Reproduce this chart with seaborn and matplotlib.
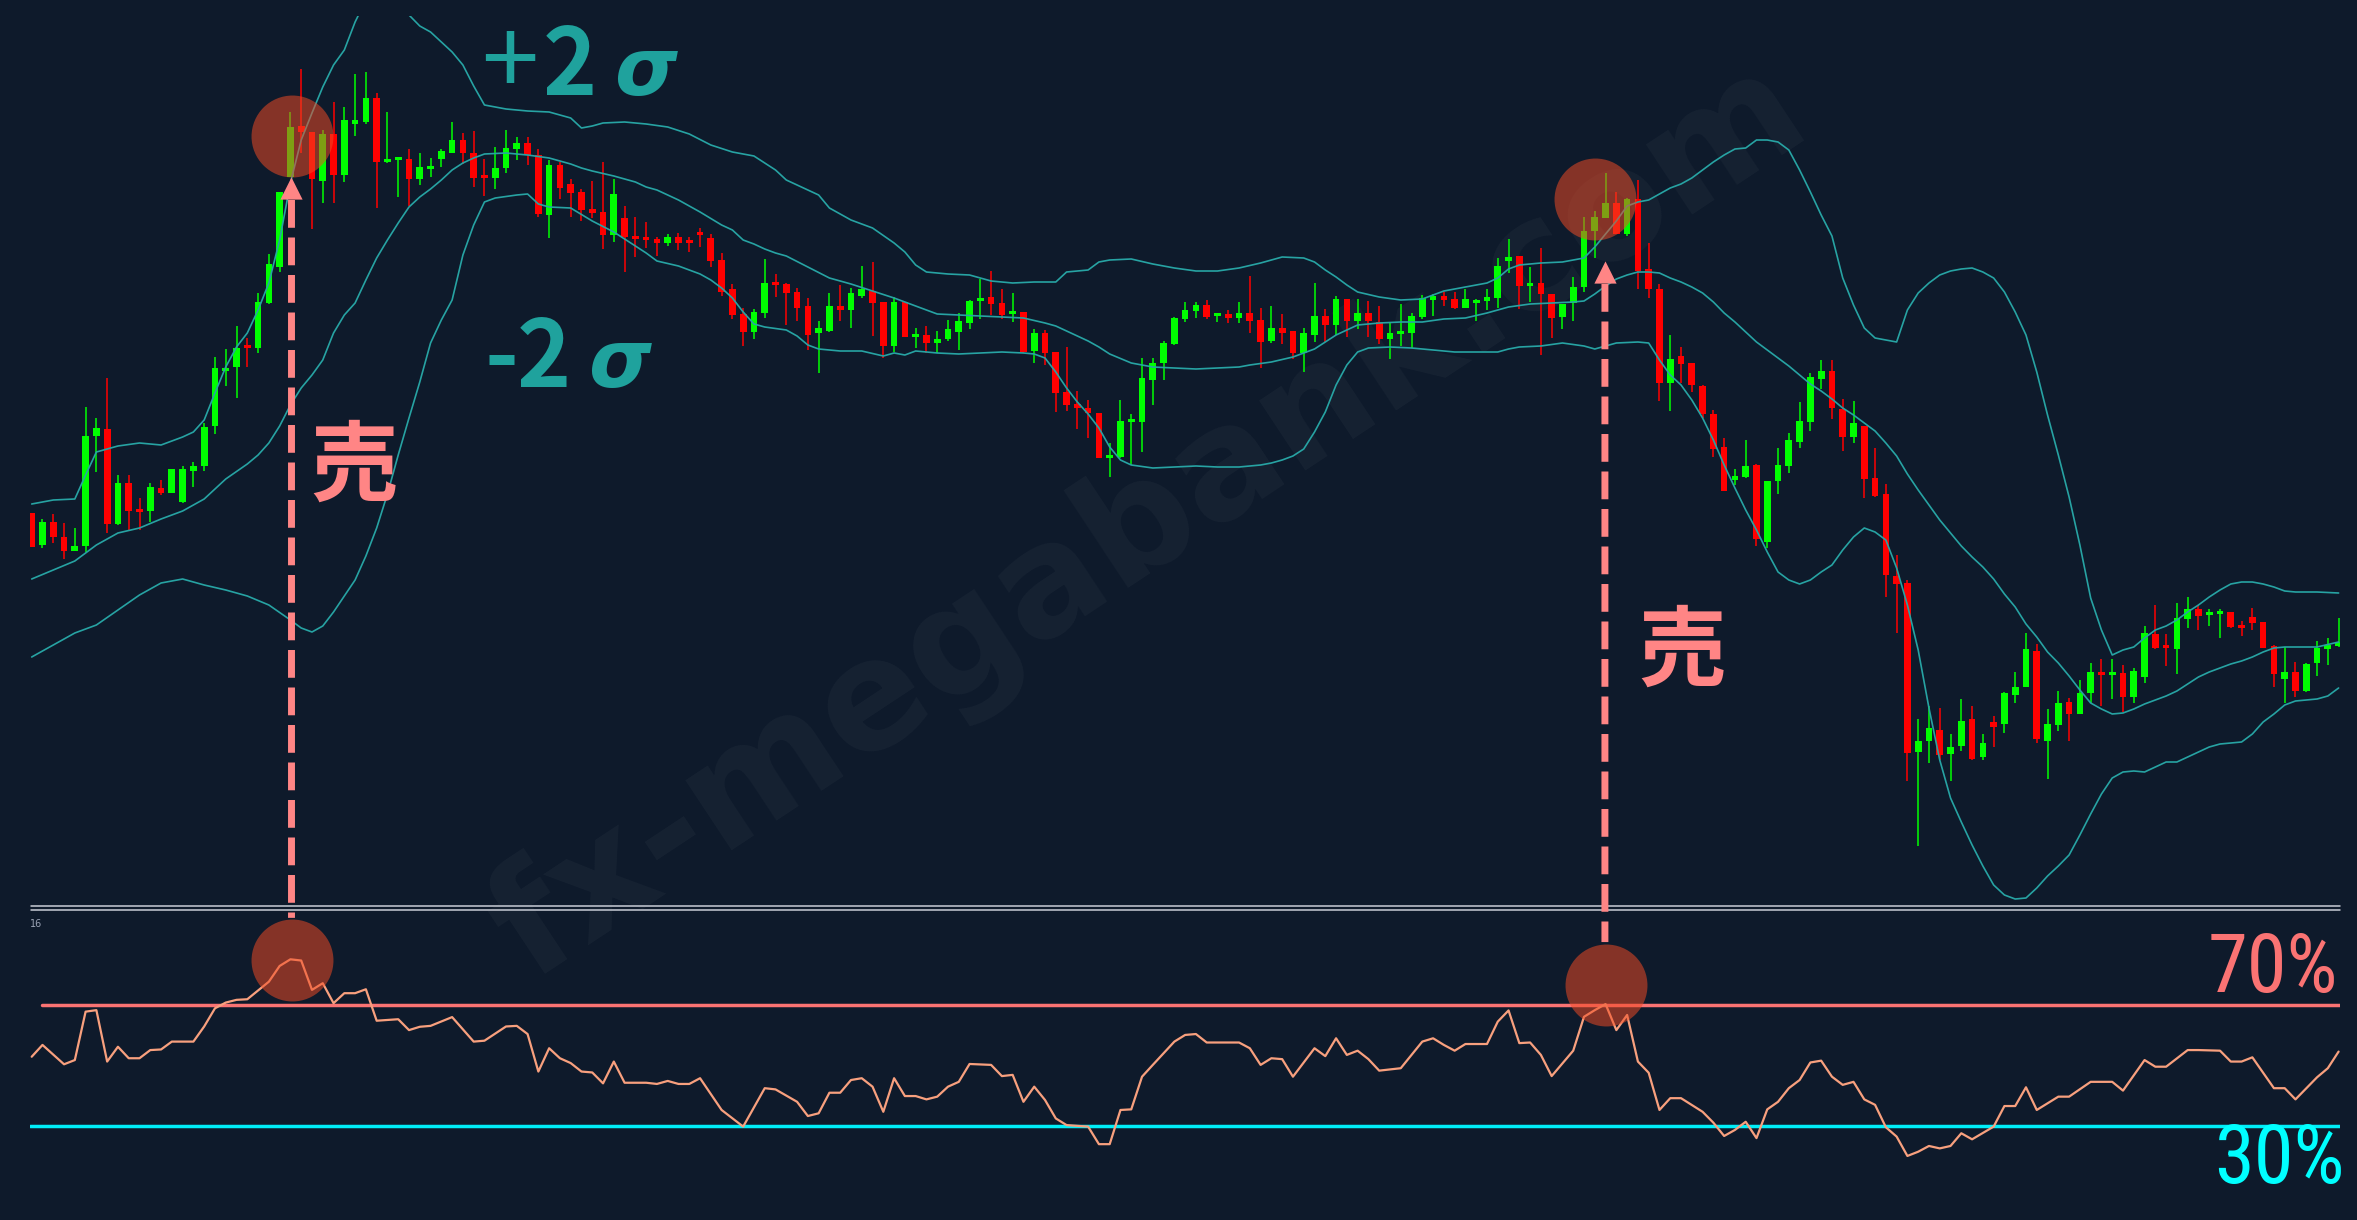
import numpy as np
import pandas as pd
import matplotlib
matplotlib.use("Agg")
import matplotlib.pyplot as plt
import seaborn as sns
from matplotlib.patches import ConnectionPatch
from matplotlib.lines import Line2D

# ---------------- price bars ----------------
opens = [
    144.87, 144.55, 144.78, 144.63, 144.49, 144.54, 145.64, 145.71, 144.76, 145.17,
    144.90, 144.89, 145.12, 145.07, 144.98, 145.29, 145.34, 145.74, 146.29, 146.33,
    146.54, 146.52, 146.97, 147.33, 148.23, 148.74, 148.68, 148.19, 148.66, 148.25,
    148.76, 148.78, 149.02, 148.38, 148.40, 148.41, 148.21, 148.31, 148.41, 148.47,
    148.60, 148.47, 148.23, 148.22, 148.32, 148.51, 148.57, 148.45, 147.85, 148.35,
    148.16, 148.08, 147.91, 147.88, 147.65, 147.82, 147.64, 147.62, 147.61, 147.57,
    147.63, 147.59, 147.66, 147.62, 147.40, 147.11, 146.86, 146.68, 146.87, 147.18,
    147.16, 147.08, 146.94, 146.67, 146.69, 146.94, 146.90, 147.04, 147.09, 146.98,
    146.54, 146.98, 146.63, 146.65, 146.57, 146.61, 146.68, 146.77, 146.99, 147.03,
    146.97, 146.86, 146.88, 146.49, 146.67, 146.48, 146.08, 145.96, 145.92, 145.87,
    145.42, 145.43, 145.78, 145.78, 146.20, 146.37, 146.56, 146.81, 146.89, 146.95,
    146.84, 146.86, 146.82, 146.87, 146.80, 146.59, 146.72, 146.69, 146.47, 146.65,
    146.84, 146.75, 147.01, 146.79, 146.87, 146.78, 146.61, 146.66, 146.67, 146.83,
    147.00, 147.04, 147.01, 146.92, 146.97, 146.99, 147.02, 147.39, 147.44, 147.14,
    147.17, 147.06, 146.83, 146.97, 147.13, 147.69, 147.82, 147.97, 147.66, 148.01,
    147.31, 147.11, 146.17, 146.44, 146.37, 146.14, 145.86, 145.53, 145.20, 145.23,
    145.35, 144.58, 145.19, 145.34, 145.58, 145.78, 146.21, 146.29, 145.91, 145.63,
    145.74, 145.22, 145.06, 144.24, 144.17, 142.48, 142.59, 142.70, 142.46, 142.54,
    142.81, 142.43, 142.78, 142.76, 143.05, 143.13, 143.49, 142.59, 142.75, 142.98,
    142.86, 143.07, 143.28, 143.25, 143.27, 143.03, 143.23, 143.66, 143.53, 143.51,
    143.81, 143.91, 143.85, 143.86, 143.88, 143.73, 143.83, 143.78, 143.54, 143.21,
    143.28, 143.09, 143.37, 143.51, 143.54,
]
highs = [
    144.87, 144.81, 144.86, 144.77, 144.72, 145.93, 145.82, 146.22, 145.25, 145.25,
    145.02, 145.17, 145.20, 145.31, 145.34, 145.38, 145.77, 146.43, 146.51, 146.74,
    146.62, 147.07, 147.46, 148.08, 148.88, 149.31, 148.68, 148.70, 148.98, 148.93,
    149.26, 149.28, 149.07, 148.88, 148.43, 148.51, 148.47, 148.42, 148.51, 148.78,
    148.67, 148.69, 148.41, 148.53, 148.70, 148.63, 148.63, 148.51, 148.40, 148.38,
    148.21, 148.11, 148.19, 148.38, 148.21, 147.94, 147.83, 147.78, 147.63, 147.66,
    147.67, 147.63, 147.72, 147.66, 147.47, 147.16, 146.92, 146.91, 147.41, 147.26,
    147.17, 147.12, 147.02, 146.79, 147.07, 147.15, 147.12, 147.34, 147.38, 146.98,
    147.03, 146.98, 146.72, 146.74, 146.69, 146.80, 146.87, 147.00, 147.21, 147.29,
    147.11, 147.07, 146.88, 146.71, 146.70, 146.48, 146.53, 146.09, 146.00, 145.87,
    145.57, 146.00, 145.86, 146.42, 146.42, 146.59, 146.83, 146.98, 146.98, 147.00,
    146.87, 146.90, 146.98, 147.24, 146.92, 146.94, 146.86, 146.69, 146.72, 147.17,
    146.91, 147.04, 147.01, 147.01, 146.99, 146.94, 146.77, 146.96, 146.87, 147.05,
    147.06, 147.08, 147.08, 147.11, 147.01, 147.11, 147.42, 147.61, 147.44, 147.33,
    147.52, 147.06, 146.96, 147.23, 147.83, 147.89, 148.27, 148.08, 148.02, 148.20,
    147.57, 147.16, 146.65, 146.53, 146.37, 146.15, 145.90, 145.62, 145.31, 145.60,
    145.36, 145.19, 145.52, 145.67, 145.98, 146.27, 146.40, 146.40, 146.01, 145.99,
    145.74, 145.52, 145.16, 144.45, 144.20, 142.81, 142.94, 142.92, 142.66, 143.01,
    142.94, 142.66, 142.84, 143.08, 143.28, 143.67, 143.56, 142.91, 143.09, 143.02,
    143.20, 143.37, 143.41, 143.41, 143.35, 143.32, 143.74, 143.95, 143.66, 143.97,
    144.03, 143.95, 143.91, 143.91, 143.88, 143.79, 143.92, 143.78, 143.55, 143.53,
    143.38, 143.37, 143.59, 143.62, 143.82,
]
lows = [
    144.53, 144.52, 144.57, 144.41, 144.49, 144.48, 145.28, 144.67, 144.75, 144.70,
    144.70, 144.78, 145.05, 145.07, 144.97, 145.13, 145.29, 145.66, 146.14, 146.02,
    146.33, 146.47, 146.96, 147.28, 148.23, 148.47, 147.71, 147.97, 147.97, 148.18,
    148.64, 148.76, 147.92, 148.37, 148.03, 147.94, 148.15, 148.23, 148.33, 148.47,
    148.36, 148.13, 148.04, 148.11, 148.27, 148.40, 148.35, 147.83, 147.62, 148.01,
    147.83, 147.79, 147.82, 147.51, 147.58, 147.28, 147.43, 147.52, 147.44, 147.54,
    147.50, 147.48, 147.53, 147.33, 147.04, 146.81, 146.54, 146.61, 146.82, 147.03,
    146.75, 146.79, 146.50, 146.27, 146.68, 146.79, 146.72, 147.02, 146.64, 146.42,
    146.48, 146.63, 146.52, 146.47, 146.47, 146.59, 146.50, 146.71, 146.81, 146.85,
    146.81, 146.78, 146.47, 146.37, 146.35, 145.88, 145.89, 145.71, 145.62, 145.42,
    145.23, 145.42, 145.35, 145.48, 145.95, 146.20, 146.55, 146.78, 146.82, 146.81,
    146.78, 146.77, 146.77, 146.67, 146.32, 146.57, 146.56, 146.41, 146.28, 146.58,
    146.58, 146.65, 146.63, 146.71, 146.63, 146.56, 146.41, 146.54, 146.52, 146.81,
    146.84, 146.94, 146.91, 146.92, 146.79, 146.90, 146.92, 147.27, 146.91, 146.98,
    146.45, 146.62, 146.71, 146.79, 147.08, 147.42, 147.82, 147.66, 147.64, 147.11,
    147.02, 145.99, 145.89, 146.17, 146.08, 145.82, 145.43, 145.09, 145.15, 145.22,
    144.54, 144.52, 145.06, 145.27, 145.52, 145.69, 146.11, 145.81, 145.49, 145.57,
    145.02, 145.03, 144.03, 143.67, 142.19, 141.54, 142.37, 142.40, 142.19, 142.49,
    142.40, 142.40, 142.53, 142.67, 142.97, 143.13, 142.57, 142.21, 142.69, 142.59,
    142.86, 142.97, 142.94, 143.01, 142.88, 142.97, 143.17, 143.51, 143.34, 143.26,
    143.72, 143.70, 143.74, 143.62, 143.72, 143.64, 143.70, 143.52, 143.13, 142.97,
    143.03, 143.08, 143.24, 143.35, 143.53,
]
closes = [
    144.53, 144.78, 144.63, 144.49, 144.54, 145.64, 145.72, 144.76, 145.17, 144.89,
    144.88, 145.13, 145.07, 145.31, 145.31, 145.34, 145.73, 146.32, 146.32, 146.52,
    146.52, 146.98, 147.36, 148.08, 148.73, 148.68, 148.21, 148.66, 148.25, 148.80,
    148.80, 149.02, 148.38, 148.41, 148.43, 148.21, 148.33, 148.34, 148.49, 148.60,
    148.47, 148.22, 148.22, 148.32, 148.52, 148.57, 148.45, 147.86, 148.35, 148.12,
    148.07, 147.90, 147.87, 147.65, 148.06, 147.63, 147.61, 147.60, 147.57, 147.63,
    147.57, 147.57, 147.65, 147.39, 147.08, 146.85, 146.68, 146.88, 147.17, 147.15,
    147.07, 146.92, 146.65, 146.72, 146.94, 146.90, 147.07, 147.11, 146.97, 146.54,
    146.98, 146.63, 146.65, 146.57, 146.61, 146.71, 146.79, 146.99, 147.01, 146.96,
    146.85, 146.88, 146.48, 146.67, 146.47, 146.07, 145.95, 145.92, 145.87, 145.42,
    145.43, 145.79, 145.79, 146.22, 146.37, 146.57, 146.82, 146.90, 146.95, 146.83,
    146.86, 146.82, 146.87, 146.79, 146.58, 146.72, 146.67, 146.47, 146.67, 146.84,
    146.75, 147.01, 146.79, 146.87, 146.79, 146.61, 146.67, 146.68, 146.84, 147.02,
    147.04, 147.00, 146.92, 147.01, 146.99, 147.03, 147.34, 147.43, 147.14, 147.17,
    147.06, 146.82, 146.96, 147.13, 147.69, 147.83, 147.97, 147.66, 148.01, 147.29,
    147.11, 146.17, 146.41, 146.36, 146.15, 145.86, 145.51, 145.09, 145.24, 145.34,
    144.61, 145.19, 145.35, 145.60, 145.79, 146.23, 146.29, 145.92, 145.63, 145.77,
    145.21, 145.04, 144.25, 144.16, 142.47, 142.59, 142.72, 142.45, 142.53, 142.79,
    142.41, 142.57, 142.73, 143.07, 143.13, 143.51, 142.61, 142.76, 142.97, 142.86,
    143.07, 143.28, 143.25, 143.27, 143.03, 143.29, 143.67, 143.52, 143.52, 143.82,
    143.91, 143.84, 143.87, 143.89, 143.73, 143.72, 143.77, 143.52, 143.26, 143.28,
    143.09, 143.36, 143.52, 143.55, 143.58,
]

# ---------------- Bollinger bands: (bar, price) ----------------
upper_band = [
    (0, 144.96), (2, 145.00), (4, 145.01), (5, 145.25), (6, 145.48), (8, 145.54), (10, 145.57),
    (12, 145.55), (14, 145.63), (15, 145.68), (16, 145.80), (17, 146.07), (18, 146.33), (19, 146.53),
    (20, 146.67), (21, 146.90), (22, 147.17), (23, 147.60), (24, 148.17), (25, 148.60), (26, 148.87),
    (27, 149.13), (28, 149.35), (29, 149.50), (30, 149.78), (31, 150.00), (32, 150.10), (33, 150.12),
    (34, 150.05), (35, 149.85), (36, 149.74), (37, 149.68), (38, 149.58), (39, 149.48), (40, 149.35),
    (41, 149.14), (42, 148.95), (44, 148.91), (46, 148.89), (48, 148.88), (50, 148.82), (51, 148.72),
    (52, 148.74), (53, 148.77), (55, 148.78), (57, 148.76), (59, 148.73), (61, 148.66), (63, 148.55),
    (65, 148.48), (67, 148.44), (69, 148.30), (70, 148.20), (72, 148.10), (73, 148.05), (74, 147.92),
    (76, 147.80), (78, 147.72), (80, 147.57), (81, 147.48), (82, 147.35), (83, 147.28), (85, 147.26),
    (87, 147.25), (89, 147.19), (91, 147.17), (93, 147.18), (95, 147.18), (96, 147.28), (98, 147.30),
    (99, 147.38), (100, 147.40), (102, 147.41), (104, 147.36), (106, 147.32), (108, 147.29),
    (110, 147.29), (112, 147.32), (114, 147.37), (115, 147.40), (116, 147.43), (118, 147.42),
    (119, 147.38), (120, 147.30), (121, 147.23), (122, 147.15), (123, 147.08), (125, 147.03),
    (127, 147.00), (129, 147.01), (131, 147.09), (133, 147.13), (135, 147.17), (136, 147.22),
    (137, 147.31), (138, 147.35), (140, 147.37), (142, 147.38), (144, 147.42), (145, 147.53),
    (147, 147.79), (148, 147.94), (149, 147.98), (150, 148.00), (151, 148.06), (152, 148.12),
    (153, 148.16), (154, 148.22), (155, 148.30), (156, 148.38), (157, 148.45), (158, 148.51),
    (159, 148.52), (160, 148.60), (161, 148.60), (162, 148.58), (163, 148.50), (164, 148.30),
    (165, 148.08), (166, 147.85), (167, 147.64), (168, 147.22), (169, 146.95), (170, 146.72),
    (171, 146.62), (172, 146.60), (173, 146.58), (174, 146.90), (175, 147.07), (176, 147.17),
    (177, 147.25), (178, 147.29), (179, 147.31), (180, 147.32), (181, 147.28), (182, 147.22),
    (183, 147.08), (184, 146.88), (185, 146.65), (186, 146.28), (187, 145.85), (188, 145.45),
    (189, 145.03), (190, 144.55), (191, 144.02), (192, 143.70), (193, 143.45), (194, 143.50),
    (195, 143.53), (196, 143.62), (197, 143.70), (198, 143.74), (199, 143.80), (200, 143.88),
    (201, 143.95), (202, 144.03), (203, 144.10), (204, 144.16), (205, 144.18), (206, 144.18),
    (207, 144.16), (208, 144.13), (209, 144.09), (210, 144.08), (212, 144.08), (214, 144.07),
]
middle_band = [
    (0, 144.21), (2, 144.30), (4, 144.39), (6, 144.55), (8, 144.67), (10, 144.72), (12, 144.81),
    (14, 144.89), (16, 145.01), (18, 145.21), (20, 145.36), (21, 145.45), (22, 145.57), (23, 145.74),
    (24, 145.95), (25, 146.12), (26, 146.25), (27, 146.40), (28, 146.67), (29, 146.85), (30, 146.97),
    (31, 147.20), (32, 147.42), (33, 147.60), (34, 147.77), (35, 147.93), (36, 148.03), (37, 148.11),
    (38, 148.20), (39, 148.30), (40, 148.37), (41, 148.42), (42, 148.46), (44, 148.47), (46, 148.45),
    (48, 148.42), (50, 148.36), (51, 148.32), (52, 148.29), (54, 148.24), (56, 148.18), (57, 148.13),
    (58, 148.10), (60, 148.00), (62, 147.88), (64, 147.75), (65, 147.70), (66, 147.60), (67, 147.56),
    (68, 147.51), (69, 147.47), (70, 147.44), (72, 147.33), (74, 147.22), (76, 147.16), (78, 147.09),
    (80, 147.02), (82, 146.94), (84, 146.86), (86, 146.85), (88, 146.84), (90, 146.83), (92, 146.82),
    (94, 146.77), (95, 146.74), (96, 146.69), (97, 146.64), (98, 146.59), (99, 146.53), (100, 146.46),
    (102, 146.37), (104, 146.33), (106, 146.32), (108, 146.31), (110, 146.32), (112, 146.33),
    (113, 146.35), (115, 146.38), (117, 146.43), (119, 146.51), (120, 146.58), (121, 146.65),
    (122, 146.70), (123, 146.75), (125, 146.77), (127, 146.78), (129, 146.78), (131, 146.81),
    (133, 146.82), (135, 146.87), (136, 146.90), (137, 146.93), (139, 146.96), (141, 146.97),
    (143, 146.98), (144, 146.99), (145, 147.06), (146, 147.14), (147, 147.21), (148, 147.25),
    (149, 147.28), (150, 147.28), (151, 147.27), (152, 147.22), (153, 147.18), (154, 147.13),
    (155, 147.07), (156, 146.98), (157, 146.87), (158, 146.78), (159, 146.68), (160, 146.58),
    (161, 146.50), (162, 146.42), (163, 146.34), (164, 146.25), (165, 146.16), (166, 146.09),
    (167, 146.01), (168, 145.92), (169, 145.85), (170, 145.77), (171, 145.69), (172, 145.57),
    (173, 145.44), (174, 145.26), (175, 145.10), (176, 144.95), (177, 144.80), (178, 144.67),
    (179, 144.54), (180, 144.43), (181, 144.33), (182, 144.21), (183, 144.06), (184, 143.93),
    (185, 143.76), (186, 143.63), (187, 143.48), (188, 143.37), (189, 143.24), (190, 143.10),
    (191, 142.97), (192, 142.91), (193, 142.86), (194, 142.87), (195, 142.91), (196, 142.96),
    (197, 143.00), (198, 143.04), (199, 143.09), (200, 143.16), (201, 143.23), (202, 143.28),
    (203, 143.32), (204, 143.36), (205, 143.39), (206, 143.43), (207, 143.48), (208, 143.52),
    (209, 143.53), (210, 143.53), (212, 143.53), (214, 143.58),
]
lower_band = [
    (0, 143.43), (2, 143.55), (4, 143.67), (6, 143.75), (8, 143.90), (10, 144.05), (12, 144.17),
    (14, 144.21), (16, 144.15), (18, 144.10), (20, 144.04), (22, 143.95), (24, 143.80), (25, 143.72),
    (26, 143.68), (27, 143.74), (28, 143.88), (29, 144.04), (30, 144.20), (31, 144.44), (32, 144.72),
    (33, 145.06), (34, 145.45), (35, 145.82), (36, 146.18), (37, 146.57), (38, 146.80), (39, 147.00),
    (40, 147.45), (41, 147.75), (42, 147.98), (43, 148.02), (45, 148.05), (46, 148.06), (47, 147.96),
    (48, 147.93), (50, 147.92), (52, 147.79), (54, 147.68), (56, 147.54), (57, 147.47), (58, 147.39),
    (60, 147.34), (62, 147.26), (63, 147.20), (64, 147.12), (65, 147.02), (66, 146.88), (67, 146.76),
    (68, 146.73), (70, 146.70), (71, 146.64), (72, 146.55), (73, 146.51), (75, 146.49), (77, 146.49),
    (79, 146.44), (80, 146.47), (81, 146.45), (82, 146.49), (84, 146.47), (86, 146.46), (88, 146.47),
    (90, 146.48), (92, 146.47), (93, 146.46), (94, 146.42), (95, 146.28), (96, 146.12), (97, 145.98),
    (98, 145.86), (99, 145.72), (100, 145.53), (101, 145.40), (102, 145.35), (104, 145.32),
    (106, 145.33), (108, 145.34), (110, 145.33), (112, 145.33), (114, 145.35), (115, 145.37),
    (116, 145.40), (117, 145.44), (118, 145.51), (119, 145.68), (120, 145.88), (121, 146.15),
    (122, 146.35), (123, 146.48), (124, 146.52), (126, 146.53), (128, 146.52), (130, 146.50),
    (132, 146.48), (134, 146.48), (136, 146.48), (137, 146.51), (138, 146.53), (140, 146.54),
    (142, 146.57), (144, 146.54), (145, 146.51), (146, 146.54), (147, 146.57), (149, 146.58),
    (150, 146.57), (151, 146.40), (152, 146.25), (153, 146.15), (154, 146.00), (155, 145.82),
    (156, 145.60), (157, 145.35), (158, 145.12), (159, 144.90), (160, 144.70), (161, 144.48),
    (162, 144.28), (163, 144.20), (164, 144.16), (165, 144.20), (166, 144.28), (167, 144.35),
    (168, 144.50), (169, 144.63), (170, 144.72), (171, 144.68), (172, 144.60), (173, 144.32),
    (174, 143.95), (175, 143.50), (176, 142.92), (177, 142.40), (178, 142.02), (179, 141.78),
    (180, 141.55), (181, 141.34), (182, 141.15), (183, 141.05), (184, 141.01), (185, 141.02),
    (186, 141.12), (187, 141.24), (188, 141.34), (189, 141.45), (190, 141.65), (191, 141.86),
    (192, 142.06), (193, 142.22), (194, 142.28), (195, 142.29), (196, 142.28), (197, 142.33),
    (198, 142.38), (199, 142.38), (200, 142.43), (201, 142.48), (202, 142.53), (203, 142.56),
    (204, 142.57), (205, 142.58), (206, 142.66), (207, 142.78), (208, 142.86), (209, 142.95),
    (210, 142.99), (212, 143.01), (213, 143.04), (214, 143.12),
]

# ---------------- RSI: (bar, %) ----------------
rsi_points = [
    (0, 52.9), (1, 56.8), (3, 50.4), (4, 51.8), (5, 67.8), (6, 68.3), (7, 51.3), (8, 56.2),
    (9, 52.4), (10, 52.4), (11, 55.1), (12, 55.3), (13, 57.9), (15, 57.9), (16, 62.9), (17, 68.9),
    (18, 70.8), (19, 71.7), (20, 71.9), (22, 77.7), (23, 82.9), (24, 85.1), (25, 84.7), (26, 75.0),
    (27, 77.2), (28, 70.6), (29, 73.9), (30, 73.9), (31, 75.2), (32, 64.8), (34, 65.3), (35, 61.7),
    (36, 62.8), (37, 63.1), (39, 66.0), (41, 57.9), (42, 58.2), (44, 62.9), (45, 63.1), (46, 60.4),
    (47, 48.0), (48, 55.7), (49, 52.4), (50, 50.8), (51, 48.0), (52, 47.7), (53, 44.1), (54, 51.3),
    (55, 44.3), (57, 44.3), (58, 43.9), (59, 44.9), (60, 43.9), (61, 43.9), (62, 45.8), (64, 35.3),
    (66, 29.8), (68, 42.5), (69, 42.1), (71, 38.0), (72, 33.3), (73, 34.2), (74, 41.0), (75, 41.0),
    (76, 45.2), (77, 45.8), (78, 43.0), (79, 34.7), (80, 45.8), (81, 39.9), (82, 39.9), (83, 38.8),
    (84, 39.7), (85, 43.0), (86, 44.6), (87, 50.5), (89, 50.2), (90, 46.5), (91, 46.9), (92, 38.0),
    (93, 43.0), (94, 38.6), (95, 32.5), (96, 30.3), (98, 29.8), (99, 24.0), (100, 24.0), (101, 35.3),
    (102, 35.5), (103, 46.3), (104, 50.2), (106, 57.9), (107, 60.1), (108, 60.4), (109, 57.6),
    (112, 57.6), (113, 55.7), (114, 50.2), (115, 52.4), (116, 52.1), (117, 46.3), (119, 55.7),
    (120, 53.1), (121, 59.0), (122, 53.5), (123, 54.9), (124, 52.1), (125, 48.3), (127, 49.1),
    (128, 53.5), (129, 57.9), (130, 59.0), (131, 56.8), (132, 54.9), (133, 57.1), (135, 57.1),
    (136, 64.5), (137, 68.2), (138, 57.4), (139, 57.6), (140, 53.5), (141, 46.5), (143, 54.9),
    (144, 66.1), (145, 68.3), (146, 70.3), (147, 61.7), (148, 66.7), (149, 51.3), (150, 47.6),
    (151, 35.3), (152, 39.2), (153, 39.2), (155, 34.7), (156, 31.1), (157, 26.7), (158, 28.7),
    (159, 31.4), (160, 26.0), (161, 35.5), (162, 38.0), (163, 42.5), (164, 45.2), (165, 51.0),
    (166, 51.6), (167, 46.3), (168, 43.6), (169, 44.6), (170, 38.8), (171, 37.0), (172, 29.6),
    (173, 26.5), (174, 20.1), (175, 21.5), (176, 23.4), (177, 22.6), (178, 23.4), (179, 27.6),
    (180, 25.6), (182, 29.8), (183, 36.6), (184, 36.6), (185, 42.8), (186, 35.3), (188, 39.7),
    (189, 39.7), (191, 44.6), (193, 44.6), (194, 41.7), (196, 51.8), (197, 49.6), (198, 49.6),
    (200, 55.1), (201, 55.1), (203, 54.9), (204, 51.3), (205, 51.3), (206, 52.7), (208, 42.5),
    (209, 42.5), (210, 38.8), (212, 46.1), (213, 49.1), (214, 54.6),
]

rsi_levels = [70, 30]
level_labels = ["70%", "30%"]
signal_label = "売"
watermark = "fx-megabank.com"

# ---------------- colours ----------------
BG = "#0E1A2B"
GREEN = "#00FF00"
RED = "#FF0000"
BAND = "#27A3A3"
RSI_C = "#F8A07E"
HI_C = "#FA7373"
LO_C = "#00EEF8"
PINK = "#FF8585"
TEAL = "#1FA29D"
MARK = "#F04B25"

sns.set_theme(style="dark", rc={"axes.facecolor": "none", "figure.facecolor": BG,
                                "savefig.facecolor": BG})
plt.rcParams["font.family"] = ["Noto Sans CJK JP", "DejaVu Sans"]
plt.rcParams["lines.scale_dashes"] = False

W, H = 2357, 1220
fig = plt.figure(figsize=(W / 100, H / 100), dpi=100)


def fxp(px):
    return px / W


def fyp(py):
    return 1 - py / H


def rect(x0, y0, x1, y1):
    return [fxp(x0), fyp(y1), fxp(x1) - fxp(x0), fyp(y0) - fyp(y1)]


ax = fig.add_axes(rect(30, 16, 2340, 903))
ax2 = fig.add_axes(rect(30, 910, 2340, 1220))
for a in (ax, ax2):
    a.set_xlim(-0.158, 214.13)
    a.axis("off")
ax.set_ylim(140.97, 149.84)
ax2.set_ylim(-1.07, 101.40)

# ---------------- candles ----------------
df = pd.DataFrame({"open": opens, "high": highs, "low": lows, "close": closes})
df["bar"] = np.arange(len(df))
rising = df["close"] >= df["open"]
cols = np.where(rising, GREEN, RED)
ax.vlines(df["bar"], df["low"], df["high"], colors=cols, linewidth=1.1, zorder=2)
body_lo = df[["open", "close"]].min(axis=1)
body_h = (df["close"] - df["open"]).abs().clip(lower=0.025)
ax.bar(df["bar"], body_h, bottom=body_lo, width=0.62, color=cols, linewidth=0, zorder=3)

# ---------------- bands ----------------
for band in (upper_band, middle_band, lower_band):
    bdf = pd.DataFrame(band, columns=["bar", "price"])
    sns.lineplot(data=bdf, x="bar", y="price", ax=ax, color=BAND, linewidth=1.2,
                 sort=False, estimator=None, legend=False, zorder=4)

# ---------------- RSI panel ----------------
rdf = pd.DataFrame(rsi_points, columns=["bar", "rsi"])
sns.lineplot(data=rdf, x="bar", y="rsi", ax=ax2, color=RSI_C, linewidth=1.6,
             sort=False, estimator=None, legend=False, zorder=3)
ax2.axhline(rsi_levels[0], xmin=0.0052, xmax=1, color=HI_C, linewidth=2.5, zorder=2)
ax2.axhline(rsi_levels[1], color=LO_C, linewidth=2.5, zorder=2)

# separator between the two panels
for yy in (906, 909.5):
    fig.add_artist(Line2D([fxp(31), fxp(2340)], [fyp(yy), fyp(yy)], color="#C9CDD6",
                          linewidth=1.1, transform=fig.transFigure))

# ---------------- signal markers ----------------
spot = 3480
ax.scatter([24.15, 145.0], [148.64, 148.01], s=spot, color=MARK, alpha=0.53,
           linewidths=0, zorder=6)
ax2.scatter([24.15, 146.0], [84.9, 76.6], s=spot, color=MARK, alpha=0.53,
            linewidths=0, zorder=6)

arrows = [(24.1, 148.115, 148.00, 98.8), (145.94, 147.28, 147.16, 90.8)]
for bar, head_y, top_y, bot_y in arrows:
    con = ConnectionPatch(xyA=(bar, top_y), coordsA=ax.transData,
                          xyB=(bar, bot_y), coordsB=ax2.transData,
                          color=PINK, linewidth=5.0, linestyle=(0, (20, 7)),
                          capstyle="butt", zorder=7)
    fig.add_artist(con)
    ax.scatter([bar], [head_y], marker="^", s=256, color=PINK, linewidths=0,
               zorder=7, clip_on=False)

# ---------------- text ----------------
cjk = ["Noto Sans CJK JP", "DejaVu Sans"]
greek = dict(family="DejaVu Sans", fontweight="bold", fontstyle="oblique", fontsize=58,
             color=TEAL, ha="left", va="baseline")
# +2σ
fig.text(fxp(481), fyp(95), "+", color=TEAL, fontsize=74, fontweight="normal",
         ha="left", va="baseline", family=cjk)
fig.text(fxp(543), fyp(95), "2", color=TEAL, fontsize=66, fontweight="bold",
         ha="left", va="baseline", family=cjk)
fig.text(fxp(614), fyp(95), "σ", **greek)
# -2σ
fig.text(fxp(484), fyp(387), "-", color=TEAL, fontsize=66, fontweight="bold",
         ha="left", va="baseline", family=cjk)
fig.text(fxp(517), fyp(387), "2", color=TEAL, fontsize=66, fontweight="bold",
         ha="left", va="baseline", family=cjk)
fig.text(fxp(588), fyp(387), "σ", **greek)

fig.text(fxp(354.5), fyp(494), signal_label, color=PINK, fontsize=63, fontweight="bold",
         ha="center", va="baseline", family=cjk)
fig.text(fxp(1682.5), fyp(679), signal_label, color=PINK, fontsize=63, fontweight="bold",
         ha="center", va="baseline", family=cjk)

narrow = ["Roboto Condensed", "Liberation Sans Narrow", "DejaVu Sans"]
fig.text(fxp(2338), fyp(992), level_labels[0], color=HI_C, fontsize=58,
         ha="right", va="baseline", family=narrow, fontstretch="condensed")
fig.text(fxp(2345), fyp(1183), level_labels[1], color="#00FFFF", fontsize=58,
         ha="right", va="baseline", family=narrow, fontstretch="condensed")
fig.text(fxp(30), fyp(927), "16", color="#9AA3B5", fontsize=7, ha="left", va="baseline",
         family="DejaVu Sans")

fig.text(fxp(1150), fyp(522), watermark, rotation=33.5, rotation_mode="anchor",
         ha="center", va="center", fontsize=110, fontweight="bold", color="white",
         alpha=0.035, zorder=-1, family="DejaVu Sans")

fig.savefig("out.png", dpi=100, facecolor=BG)
